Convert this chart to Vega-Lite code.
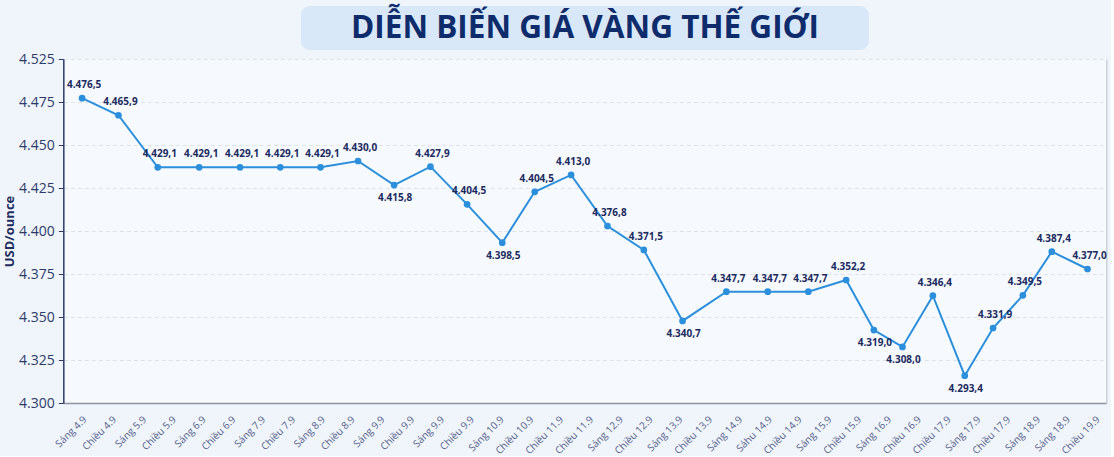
{
  "$schema": "https://vega.github.io/schema/vega-lite/v6.json",
  "background": "#eff5fb",
  "padding": {"left": 3, "top": 6, "right": 4, "bottom": 0},
  "config": {
    "font": "Open Sans",
    "locale": {"number": {"decimal": ",", "thousands": ".", "grouping": [3], "currency": ["", " USD"]}}
  },
  "spacing": 2,
  "center": true,
  "vconcat": [
    {
      "width": 568,
      "height": 44,
      "view": {"fill": "#d9e8f8", "stroke": null, "cornerRadius": 9},
      "data": {"values": [{"tieu_de": "DIỄN BIẾN GIÁ VÀNG THẾ GIỚI"}]},
      "mark": {"type": "text", "font": "Open Sans", "fontSize": 31.5, "fontWeight": "bold", "color": "#0e2c6c", "dy": 1},
      "encoding": {"text": {"field": "tieu_de"}}
    },
    {
      "width": 1043,
      "height": 344,
      "view": {"fill": "#f6fafe", "stroke": null},
      "data": {"values": [
        {"slot": 0.03, "gia_ve": 4477.2, "gia": 4476.5},
        {"slot": 1.25, "gia_ve": 4467.3, "gia": 4465.9},
        {"slot": 2.57, "gia_ve": 4437.0, "gia": 4429.1},
        {"slot": 3.96, "gia_ve": 4437.0, "gia": 4429.1},
        {"slot": 5.33, "gia_ve": 4437.0, "gia": 4429.1},
        {"slot": 6.68, "gia_ve": 4437.0, "gia": 4429.1},
        {"slot": 8.03, "gia_ve": 4437.0, "gia": 4429.1},
        {"slot": 9.29, "gia_ve": 4440.7, "gia": 4430.0},
        {"slot": 10.50, "gia_ve": 4426.7, "gia": 4415.8},
        {"slot": 11.72, "gia_ve": 4437.4, "gia": 4427.9},
        {"slot": 12.95, "gia_ve": 4415.5, "gia": 4404.5},
        {"slot": 14.13, "gia_ve": 4393.2, "gia": 4398.5},
        {"slot": 15.22, "gia_ve": 4422.8, "gia": 4404.5},
        {"slot": 16.44, "gia_ve": 4432.6, "gia": 4413.0},
        {"slot": 17.66, "gia_ve": 4402.9, "gia": 4376.8},
        {"slot": 18.88, "gia_ve": 4389.0, "gia": 4371.5},
        {"slot": 20.18, "gia_ve": 4347.7, "gia": 4340.7},
        {"slot": 21.65, "gia_ve": 4364.7, "gia": 4347.7},
        {"slot": 23.04, "gia_ve": 4364.7, "gia": 4347.7},
        {"slot": 24.40, "gia_ve": 4364.7, "gia": 4347.7},
        {"slot": 25.67, "gia_ve": 4371.5, "gia": 4352.2},
        {"slot": 26.60, "gia_ve": 4342.4, "gia": 4319.0},
        {"slot": 27.56, "gia_ve": 4332.6, "gia": 4308.0},
        {"slot": 28.58, "gia_ve": 4362.4, "gia": 4346.4},
        {"slot": 29.65, "gia_ve": 4315.9, "gia": 4293.4},
        {"slot": 30.60, "gia_ve": 4343.6, "gia": 4331.9},
        {"slot": 31.60, "gia_ve": 4362.6, "gia": 4349.5},
        {"slot": 32.57, "gia_ve": 4388.0, "gia": 4387.4},
        {"slot": 33.77, "gia_ve": 4377.9, "gia": 4377.0}
      ]},
      "encoding": {
        "x": {
          "field": "slot",
          "type": "quantitative",
          "scale": {"domain": [-0.6, 34.4], "nice": false, "zero": false},
          "axis": {
            "title": null,
            "values": [0,1,2,3,4,5,6,7,8,9,10,11,12,13,14,15,16,17,18,19,20,21,22,23,24,25,26,27,28,29,30,31,32,33,34],
            "labelExpr": "['Sáng 4.9','Chiều 4.9','Sáng 5.9','Chiều 5.9','Sáng 6.9','Chiều 6.9','Sáng 7.9','Chiều 7.9','Sáng 8.9','Chiều 8.9','Sáng 9.9','Chiều 9.9','Sáng 9.9','Chiều 9.9','Sáng 10.9','Chiều 10.9','Chiều 11.9','Chiều 11.9','Sáng 12.9','Chiều 12.9','Sáng 13.9','Chiều 13.9','Sáng 14.9','Sáhu 14.9','Chiều 14.9','Sáng 15.9','Chiều 15.9','Sáng 16.9','Chiều 16.9','Chiều 17.9','Sáng 17.9','Chiều 17.9','Sáng 18.9','Sáng 18.9','Chiều 19.9'][datum.value]",
            "labelAngle": -45,
            "labelFontSize": 10,
            "labelColor": "#56608a",
            "labelPadding": 11,
            "labelOverlap": false,
            "labelFlush": false,
            "labelBound": false,
            "ticks": false,
            "grid": false,
            "domainColor": "#8e949e",
            "domainWidth": 1.5
          }
        }
      },
      "layer": [
        {
          "mark": {"type": "line", "color": "#2b8fdb", "strokeWidth": 2},
          "encoding": {
            "y": {
              "field": "gia_ve",
              "type": "quantitative",
              "scale": {"domain": [4300, 4500], "nice": false, "zero": false},
              "axis": {
                "orient": "left",
                "title": "USD/ounce",
                "titleFontSize": 13,
                "titleFontWeight": "bold",
                "titleColor": "#1f2d5e",
                "titlePadding": 2,
                "values": [4300, 4325, 4350, 4375, 4400, 4425, 4450, 4475, 4500],
                "format": ",.0f",
                "labelExpr": "datum.value == 4500 ? '4.525' : datum.label",
                "labelFontSize": 14,
                "labelColor": "#2d3a69",
                "labelPadding": 4,
                "tickSize": 5,
                "tickColor": "#2d3a69",
                "domainColor": "#2d3a69",
                "domainWidth": 1.5,
                "grid": true,
                "gridDash": [4, 3],
                "gridColor": "#dde3ea"
              }
            }
          }
        },
        {
          "mark": {"type": "circle", "color": "#2b8fdb", "opacity": 1, "size": 45},
          "encoding": {
            "y": {
              "field": "gia_ve",
              "type": "quantitative",
              "axis": {"orient": "right", "title": null, "labels": false, "ticks": false, "grid": false, "domainColor": "#c9d0d8", "domainWidth": 1.5}
            }
          }
        },
        {
          "transform": [{"filter": {"not": {"field": "gia", "oneOf": [4415.8, 4398.5, 4340.7, 4319.0, 4308.0, 4293.4]}}}],
          "mark": {"type": "text", "fontSize": 10, "fontWeight": "bold", "color": "#1c2a5e", "dy": -13, "dx": 2},
          "encoding": {
            "y": {"field": "gia_ve", "type": "quantitative", "axis": null},
            "text": {"field": "gia", "type": "quantitative", "format": ",.1f"}
          }
        },
        {
          "transform": [{"filter": {"field": "gia", "oneOf": [4415.8, 4398.5, 4340.7, 4319.0, 4308.0, 4293.4]}}],
          "mark": {"type": "text", "fontSize": 10, "fontWeight": "bold", "color": "#1c2a5e", "dy": 13, "dx": 1},
          "encoding": {
            "y": {"field": "gia_ve", "type": "quantitative", "axis": null},
            "text": {"field": "gia", "type": "quantitative", "format": ",.1f"}
          }
        }
      ],
      "resolve": {"axis": {"y": "independent"}}
    }
  ]
}
